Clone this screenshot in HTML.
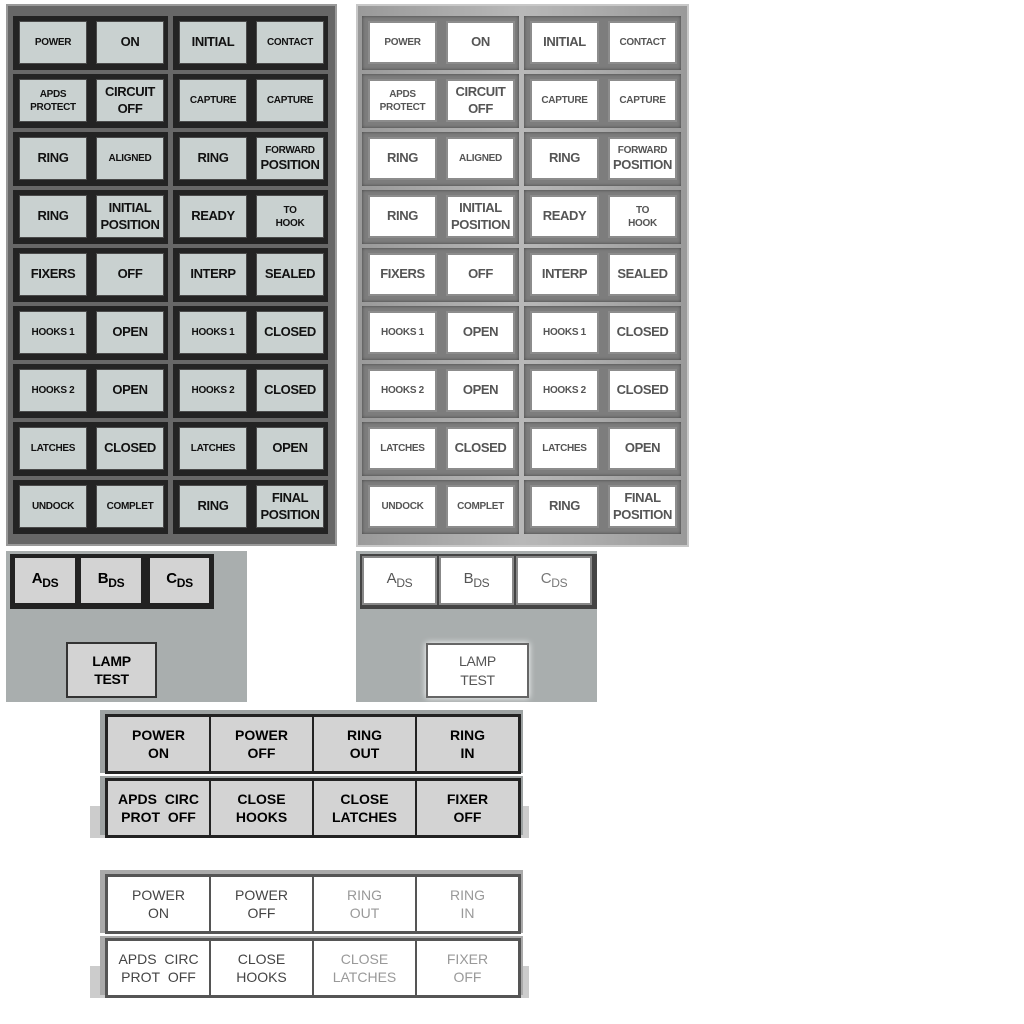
<!DOCTYPE html>
<html><head><meta charset="utf-8"><style>
*{box-sizing:border-box;margin:0;padding:0}
body{width:1024px;height:1024px;background:#fff;position:relative;overflow:hidden;font-family:"Liberation Sans",sans-serif;font-weight:bold}
.p{position:absolute}
.grid{position:absolute;display:flex;flex-direction:column;gap:4px}
.row{display:flex;gap:5px}
.g{display:flex;gap:9px;padding:5px 4px 6px 6px}
.b{width:68px;height:43px;display:flex;align-items:center;justify-content:center;text-align:center;line-height:1.3;font-size:11px;letter-spacing:-0.3px;white-space:nowrap}
.s{font-size:10px}.L{font-size:13px;letter-spacing:-0.4px}
.D .g{background:#232323}
.D .b{background:#c9d1d0;border:1px solid #4a4a4a;color:#111}
.W .g{background:#7d7d7d;box-shadow:inset 0 0 3px #444}
.W .b{background:#fff;border:2px solid #8c8c8c;color:#555;width:69px}
sub{font-size:12px;vertical-align:-4px}
.bar{position:absolute;display:flex;border:3px solid #222;background:#222;gap:2px}
.bar .b{width:101px;height:54px;font-size:14px;letter-spacing:0}
</style></head><body>

<div class="p" style="left:6px;top:4px;width:331px;height:542px;background:#676767;border:2px solid #9a9a9a"></div>
<div class="grid D" style="left:13px;top:16px">
<div class="row"><div class="g"><div class="b s">POWER</div><div class="b L">ON</div></div><div class="g"><div class="b L">INITIAL</div><div class="b s">CONTACT</div></div></div>
<div class="row"><div class="g"><div class="b s">APDS<br>PROTECT</div><div class="b L">CIRCUIT<br>OFF</div></div><div class="g"><div class="b s">CAPTURE</div><div class="b s">CAPTURE</div></div></div>
<div class="row"><div class="g"><div class="b L">RING</div><div class="b s">ALIGNED</div></div><div class="g"><div class="b L">RING</div><div class="b s"><div>FORWARD<br><span class="L">POSITION</span></div></div></div></div>
<div class="row"><div class="g"><div class="b L">RING</div><div class="b L">INITIAL<br>POSITION</div></div><div class="g"><div class="b L">READY</div><div class="b s">TO<br>HOOK</div></div></div>
<div class="row"><div class="g"><div class="b L">FIXERS</div><div class="b L">OFF</div></div><div class="g"><div class="b L">INTERP</div><div class="b L">SEALED</div></div></div>
<div class="row"><div class="g"><div class="b s">HOOKS 1</div><div class="b L">OPEN</div></div><div class="g"><div class="b s">HOOKS 1</div><div class="b L">CLOSED</div></div></div>
<div class="row"><div class="g"><div class="b s">HOOKS 2</div><div class="b L">OPEN</div></div><div class="g"><div class="b s">HOOKS 2</div><div class="b L">CLOSED</div></div></div>
<div class="row"><div class="g"><div class="b s">LATCHES</div><div class="b L">CLOSED</div></div><div class="g"><div class="b s">LATCHES</div><div class="b L">OPEN</div></div></div>
<div class="row"><div class="g"><div class="b s">UNDOCK</div><div class="b s">COMPLET</div></div><div class="g"><div class="b L">RING</div><div class="b L">FINAL<br>POSITION</div></div></div>
</div>

<div class="p" style="left:356px;top:4px;width:333px;height:543px;background:linear-gradient(90deg,#9a9a9a,#b8b8b8 50%,#9a9a9a);border:2px solid #c8c8c8"></div>
<div class="grid W" style="left:362px;top:16px">
<div class="row"><div class="g"><div class="b s">POWER</div><div class="b L">ON</div></div><div class="g"><div class="b L">INITIAL</div><div class="b s">CONTACT</div></div></div>
<div class="row"><div class="g"><div class="b s">APDS<br>PROTECT</div><div class="b L">CIRCUIT<br>OFF</div></div><div class="g"><div class="b s">CAPTURE</div><div class="b s">CAPTURE</div></div></div>
<div class="row"><div class="g"><div class="b L">RING</div><div class="b s">ALIGNED</div></div><div class="g"><div class="b L">RING</div><div class="b s"><div>FORWARD<br><span class="L">POSITION</span></div></div></div></div>
<div class="row"><div class="g"><div class="b L">RING</div><div class="b L">INITIAL<br>POSITION</div></div><div class="g"><div class="b L">READY</div><div class="b s">TO<br>HOOK</div></div></div>
<div class="row"><div class="g"><div class="b L">FIXERS</div><div class="b L">OFF</div></div><div class="g"><div class="b L">INTERP</div><div class="b L">SEALED</div></div></div>
<div class="row"><div class="g"><div class="b s">HOOKS 1</div><div class="b L">OPEN</div></div><div class="g"><div class="b s">HOOKS 1</div><div class="b L">CLOSED</div></div></div>
<div class="row"><div class="g"><div class="b s">HOOKS 2</div><div class="b L">OPEN</div></div><div class="g"><div class="b s">HOOKS 2</div><div class="b L">CLOSED</div></div></div>
<div class="row"><div class="g"><div class="b s">LATCHES</div><div class="b L">CLOSED</div></div><div class="g"><div class="b s">LATCHES</div><div class="b L">OPEN</div></div></div>
<div class="row"><div class="g"><div class="b s">UNDOCK</div><div class="b s">COMPLET</div></div><div class="g"><div class="b L">RING</div><div class="b L">FINAL<br>POSITION</div></div></div>
</div>

<div class="p" style="left:6px;top:551px;width:241px;height:151px;background:#a9aeae"></div>
<div class="p" style="left:10px;top:554px;width:204px;height:55px;background:#222"></div>
<div class="p b" style="left:15px;top:558px;width:60px;height:45px;background:#d3d3d3;font-size:15px"><div>A<sub>DS</sub></div></div>
<div class="p b" style="left:81px;top:558px;width:60px;height:45px;background:#d3d3d3;font-size:15px"><div>B<sub>DS</sub></div></div>
<div class="p b" style="left:150px;top:558px;width:59px;height:45px;background:#d3d3d3;font-size:15px"><div>C<sub>DS</sub></div></div>
<div class="p b" style="left:66px;top:642px;width:91px;height:56px;background:#d3d3d3;border:2px solid #333;font-size:14px">LAMP<br>TEST</div>

<div class="p" style="left:356px;top:551px;width:241px;height:151px;background:#a9aeae"></div>
<div class="p" style="left:360px;top:554px;width:237px;height:55px;background:#444"></div>
<div class="p b" style="left:362px;top:556px;width:75px;height:49px;background:#fff;border:2px solid #888;color:#555;font-size:15px;font-weight:normal"><div>A<sub>DS</sub></div></div>
<div class="p b" style="left:439px;top:556px;width:75px;height:49px;background:#fff;border:2px solid #888;color:#555;font-size:15px;font-weight:normal"><div>B<sub>DS</sub></div></div>
<div class="p b" style="left:516px;top:556px;width:76px;height:49px;background:#fff;border:2px solid #888;color:#777;font-size:15px;font-weight:normal"><div>C<sub>DS</sub></div></div>
<div class="p b" style="left:426px;top:643px;width:103px;height:55px;background:#fff;border:2px solid #666;box-shadow:0 0 6px #fff;color:#555;font-size:14px;font-weight:normal">LAMP<br>TEST</div>

<div class="p" style="left:90px;top:806px;width:439px;height:32px;background:#ccc"></div>
<div class="p" style="left:100px;top:710px;width:423px;height:63px;background:#9da2a2"></div>
<div class="p" style="left:100px;top:776px;width:423px;height:59px;background:#9da2a2"></div>
<div class="bar" style="left:105px;top:714px">
<div class="b" style="background:#d3d3d3">POWER<br>ON</div><div class="b" style="background:#d3d3d3">POWER<br>OFF</div><div class="b" style="background:#d3d3d3">RING<br>OUT</div><div class="b" style="background:#d3d3d3">RING<br>IN</div></div>
<div class="bar" style="left:105px;top:778px">
<div class="b" style="background:#d3d3d3">APDS&nbsp; CIRC<br>PROT&nbsp; OFF</div><div class="b" style="background:#d3d3d3">CLOSE<br>HOOKS</div><div class="b" style="background:#d3d3d3">CLOSE<br>LATCHES</div><div class="b" style="background:#d3d3d3">FIXER<br>OFF</div></div>

<div class="p" style="left:90px;top:966px;width:439px;height:32px;background:#ccc"></div>
<div class="p" style="left:100px;top:870px;width:423px;height:63px;background:#aaa"></div>
<div class="p" style="left:100px;top:936px;width:423px;height:59px;background:#aaa"></div>
<div class="bar" style="left:105px;top:874px;background:#555;border-color:#555">
<div class="b" style="background:#fff;color:#444;font-weight:normal">POWER<br>ON</div><div class="b" style="background:#fff;color:#444;font-weight:normal">POWER<br>OFF</div><div class="b" style="background:#fff;color:#999;font-weight:normal">RING<br>OUT</div><div class="b" style="background:#fff;color:#999;font-weight:normal">RING<br>IN</div></div>
<div class="bar" style="left:105px;top:938px;background:#555;border-color:#555">
<div class="b" style="background:#fff;color:#444;font-weight:normal">APDS&nbsp; CIRC<br>PROT&nbsp; OFF</div><div class="b" style="background:#fff;color:#444;font-weight:normal">CLOSE<br>HOOKS</div><div class="b" style="background:#fff;color:#999;font-weight:normal">CLOSE<br>LATCHES</div><div class="b" style="background:#fff;color:#999;font-weight:normal">FIXER<br>OFF</div></div>

</body></html>
